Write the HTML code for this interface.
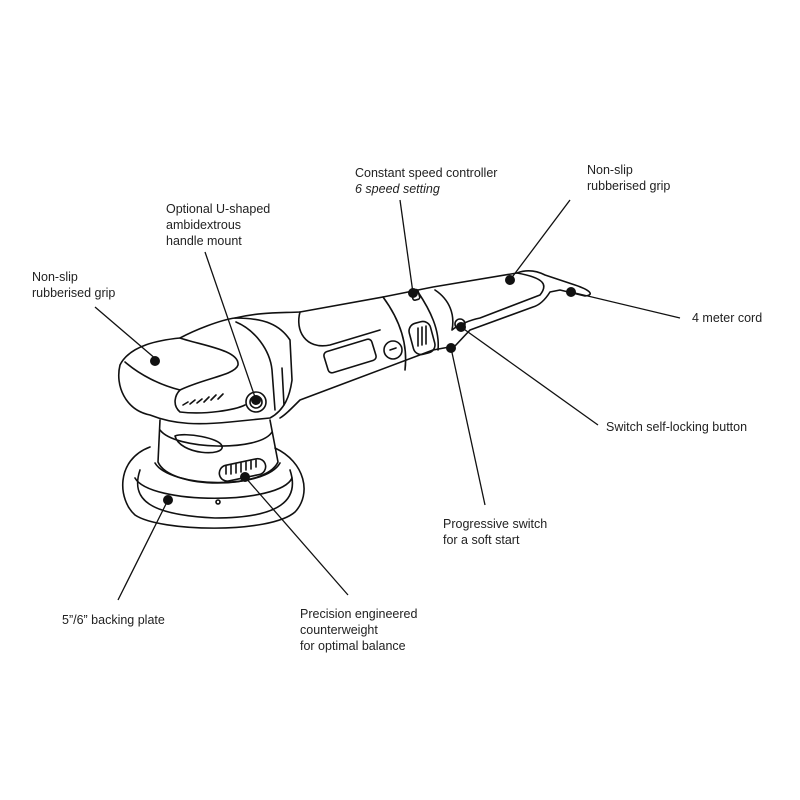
<!DOCTYPE html>
<html><head><style>
html,body{margin:0;padding:0;background:#fff;}
svg{display:block}
text{font-family:"Liberation Sans Narrow","Liberation Sans",sans-serif;font-size:12.5px;fill:#222;}
</style></head><body>
<svg width="800" height="800" viewBox="0 0 800 800" xmlns="http://www.w3.org/2000/svg">
<g fill="none" stroke="#111" stroke-width="1.6" stroke-linejoin="round" stroke-linecap="round">
<path d="M150,447 C115,460 118,500 135,515 C160,532 270,534 295,512 C312,494 305,462 275,448"/>
<path d="M140,470 C130,500 150,515 215,518 C280,518 300,500 290,470"/>
<path d="M135,478 C150,505 280,505 292,478"/>
<path d="M155,463 C170,488 265,490 280,463"/>
<path d="M160,420 L158,462 C170,490 265,490 278,462 L270,420"/>
<path d="M160,430 C175,450 260,452 272,432"/>
<path d="M175,436 C180,455 225,457 222,446 C220,438 185,432 175,436"/>
<rect x="219" y="462" width="47" height="16" rx="8" transform="rotate(-12 242 470)"/>
<path d="M226,466v8M231,465v9M236,464v9M241,463v9M246,462v8M251,461v8M256,460v7"/>
<circle cx="218" cy="502" r="2"/>
<path d="M120,365 C115,385 125,410 150,415 C175,425 200,425 230,422 L270,418 C285,410 290,395 292,380 L290,340 C280,325 265,318 235,318 C220,320 195,330 180,338 C160,340 130,345 120,365 Z"/>
<path d="M125,362 C140,375 160,385 180,390"/>
<path d="M180,338 C200,345 240,350 238,365 C235,375 205,378 180,390 C175,395 172,405 180,412 C205,415 235,410 245,405"/>
<path d="M236,322 C255,330 270,350 272,370 L275,410"/>
<circle cx="256" cy="402" r="10"/><circle cx="256" cy="402" r="6"/>
<path d="M183,405l5,-3M190,404l5,-4M197,403l5,-4M204,402l5,-5M211,400l5,-5M218,399l5,-5"/>
<path d="M282,368 L284,405"/>
<path d="M235,318 C260,312 280,313 300,312 L383,297 L433,287 L517,273 C525,270 535,270 545,275 L575,285 C590,290 595,295 585,296 L560,290 L550,292 C545,300 540,305 533,307 L470,330 L455,346 L433,350 L300,400 C290,410 285,415 280,418"/>
<path d="M300,312 C295,330 305,350 330,345 L380,330"/>
<path d="M383,297 C400,320 408,345 405,370"/>
<path d="M418,292 C430,310 440,330 438,350"/>
<path d="M435,290 C450,300 455,315 452,330 C458,325 470,320 480,318 L540,295 C548,285 545,278 517,273"/>
<rect x="325" y="345" width="50" height="22" rx="4" transform="rotate(-17 350 356)"/>
<circle cx="393" cy="350" r="9"/><path d="M390,350l6,-2"/>
<rect x="411" y="322" width="22" height="32" rx="8" transform="rotate(-15 422 338)"/>
<path d="M418,328v18M422,327v18M426,326v18"/>
<rect x="412" y="290" width="7" height="10" rx="2" transform="rotate(-15 415 295)"/>
<circle cx="460" cy="324" r="5"/>
</g>
<g stroke="#111" stroke-width="1.3">
<line x1="95" y1="307" x2="157" y2="360"/>
<line x1="205" y1="252" x2="256" y2="400"/>
<line x1="400" y1="200" x2="413" y2="293"/>
<line x1="570" y1="200" x2="510" y2="280"/>
<line x1="680" y1="318" x2="571" y2="292"/>
<line x1="598" y1="425" x2="461" y2="327"/>
<line x1="485" y1="505" x2="451" y2="348"/>
<line x1="118" y1="600" x2="168" y2="500"/>
<line x1="348" y1="595" x2="245" y2="477"/>
</g>
<g fill="#111">
<circle cx="155" cy="361" r="5"/><circle cx="256" cy="400" r="5"/><circle cx="413" cy="293" r="5"/>
<circle cx="510" cy="280" r="5"/><circle cx="571" cy="292" r="5"/><circle cx="461" cy="327" r="5"/>
<circle cx="451" cy="348" r="5"/><circle cx="168" cy="500" r="5"/><circle cx="245" cy="477" r="5"/>
</g>
<text x="32" y="281">Non-slip</text><text x="32" y="297">rubberised grip</text>
<text x="166" y="213">Optional U-shaped</text><text x="166" y="229">ambidextrous</text><text x="166" y="245">handle mount</text>
<text x="355" y="177">Constant speed controller</text><text x="355" y="193" font-style="italic">6 speed setting</text>
<text x="587" y="174">Non-slip</text><text x="587" y="190">rubberised grip</text>
<text x="692" y="322">4 meter cord</text>
<text x="606" y="431">Switch self-locking button</text>
<text x="443" y="528">Progressive switch</text><text x="443" y="544">for a soft start</text>
<text x="62" y="624">5”/6” backing plate</text>
<text x="300" y="618">Precision engineered</text><text x="300" y="634">counterweight</text><text x="300" y="650">for optimal balance</text>
</svg>
</body></html>
